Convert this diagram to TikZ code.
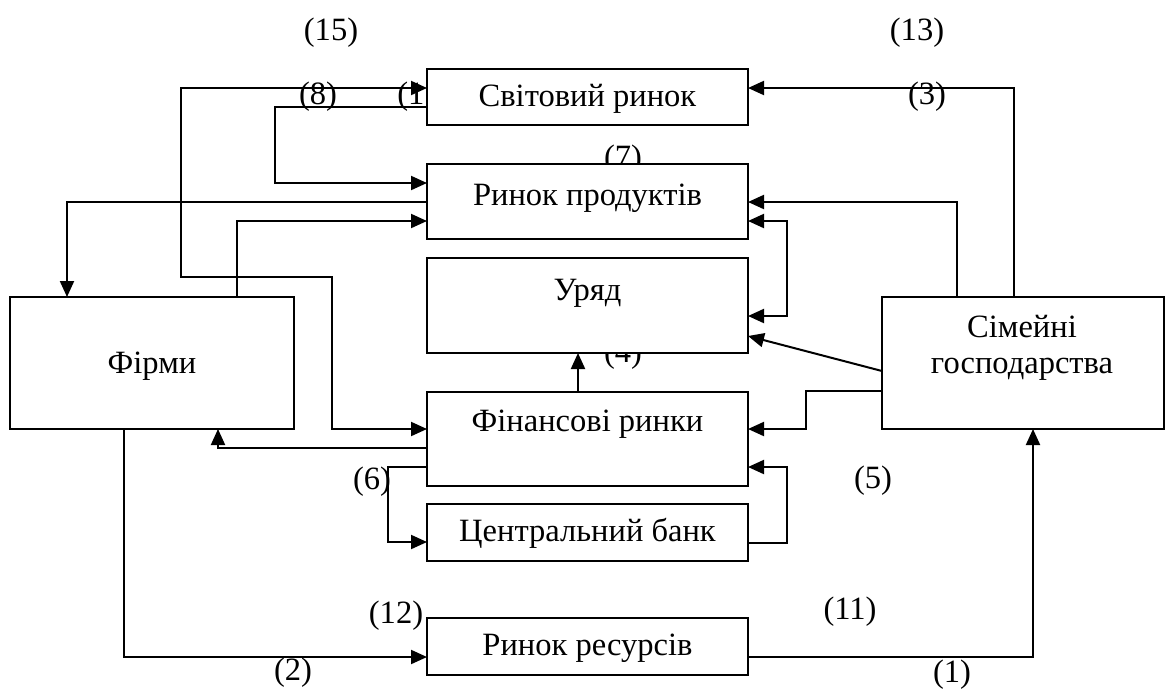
\documentclass[tikz,border=0pt]{standalone}
\usepackage{fontspec}
\setmainfont{Liberation Serif}
\usetikzlibrary{arrows.meta}

\begin{document}
\begin{tikzpicture}[x=0.75pt,y=-0.75pt,
  font=\fontsize{24.4pt}{29pt}\selectfont,
  block/.style={draw=black, line width=1.3pt, fill=white, rectangle,
    inner sep=0pt, outer sep=0pt},
  txt/.style={inner sep=0pt, anchor=base},
  flow/.style={line width=1.5pt, -{Triangle[length=12pt,width=10.5pt]}},
  both/.style={line width=1.5pt, {Triangle[length=12pt,width=10.5pt]}-{Triangle[length=12pt,width=10.5pt]}},
  link/.style={line width=1.5pt}]

\fill[white] (0,0) rectangle (1167,690);
\useasboundingbox (0,0) rectangle (1167,690);

% flow numbers (drawn first; boxes lie over some of them)
\node[txt] (n15) at (331,40) {(15)};
\node[txt] (n13) at (917,40) {(13)};
\node[txt] (n8)  at (318,104) {(8)};
\node[txt, anchor=base west] (n14) at (397,104) {(1};
\node[txt] (n3)  at (927,104) {(3)};
\node[txt] (n7)  at (623,167.5) {(7)};
\node[txt] (n4)  at (623,362) {(4)};
\node[txt] (n5)  at (873,488) {(5)};
\node[txt] (n6)  at (372,489) {(6)};
\node[txt] (n11) at (850,619) {(11)};
\node[txt] (n12) at (396,623) {(12)};
\node[txt] (n2)  at (293,680.5) {(2)};
\node[txt] (n1)  at (952,682) {(1)};

% boxes
\node[block, minimum width=240.75pt, minimum height=42pt]    (world) at (587.5,97)    {};
\node[block, minimum width=240.75pt, minimum height=56.25pt] (prod)  at (587.5,201.5) {};
\node[block, minimum width=240.75pt, minimum height=71.25pt] (gov)   at (587.5,305.5) {};
\node[block, minimum width=240.75pt, minimum height=70.5pt]  (fin)   at (587.5,439)   {};
\node[block, minimum width=240.75pt, minimum height=42.75pt] (cb)    at (587.5,532.5) {};
\node[block, minimum width=240.75pt, minimum height=42.75pt] (res)   at (587.5,646.5) {};
\node[block, minimum width=213pt,    minimum height=99pt]    (firms) at (152,363)     {};
\node[block, minimum width=211.5pt,  minimum height=99pt]    (hh)    at (1023,363)    {};

% box captions
\node[txt] (tworld) at (587.5,106) {Світовий ринок};
\node[txt] (tprod)  at (587.5,205) {Ринок продуктів};
\node[txt] (tgov)   at (587.5,300) {Уряд};
\node[txt] (tfin)   at (587.5,431) {Фінансові ринки};
\node[txt] (tcb)    at (587.5,541) {Центральний банк};
\node[txt] (tres)   at (587.5,655) {Ринок ресурсів};
\node[txt] (tfirms) at (152,373)   {Фірми};
\node[txt] (thh1)   at (1022,337)  {Сімейні};
\node[txt] (thh2)   at (1022,373)  {господарства};

% bend points of the flows
\coordinate (k2)  at (124,657);
\coordinate (k1)  at (1033,657);
\coordinate (k3)  at (1014,88);
\coordinate (k13) at (957,202);
\coordinate (kp1) at (787,221);
\coordinate (kp2) at (787,316);
\coordinate (kd1) at (0,371);
\coordinate (kd2) at (0,336);
\coordinate (kh1) at (806,391);
\coordinate (kh2) at (806,429);
\coordinate (kc1) at (787,543);
\coordinate (kc2) at (787,467);
\coordinate (kl1) at (388,467);
\coordinate (kl2) at (388,542);
\coordinate (kf1) at (218,448);
\coordinate (kg)  at (578,0);
\coordinate (ka1) at (237,221);
\coordinate (kb1) at (67,202);
\coordinate (kw1) at (181,88);
\coordinate (kw2) at (181,277);
\coordinate (kw3) at (332,277);
\coordinate (kw4) at (332,429);
\coordinate (kv1) at (275,107);
\coordinate (kv2) at (275,183);

% flows
\draw[flow] (firms.south -| k2) |- (res.west |- k2);
\draw[flow] (res.east |- k1) -| (hh.south -| k1);
\draw[flow] (hh.north -| k3) |- (world.east |- k3);
\draw[flow] (hh.north -| k13) |- (prod.east |- k13);
\draw[both] (prod.east |- kp1) -- (kp1) -- (kp2) -- (gov.east |- kp2);
\draw[flow] (hh.west |- kd1) -- (gov.east |- kd2);
\draw[flow] (hh.west |- kh1) -- (kh1) -- (kh2) -- (fin.east |- kh2);
\draw[flow] (cb.east |- kc1) -- (kc1) -- (kc2) -- (fin.east |- kc2);
\draw[flow] (fin.west |- kl1) -- (kl1) -- (kl2) -- (cb.west |- kl2);
\draw[flow] (fin.west |- kf1) -- (kf1) -- (firms.south -| kf1);
\draw[flow] (fin.north -| kg) -- (gov.south -| kg);
\draw[flow] (firms.north -| ka1) -- (ka1) -- (prod.west |- ka1);
\draw[flow] (prod.west |- kb1) -- (kb1) -- (firms.north -| kb1);
\draw[both] (world.west |- kw1) -- (kw1) -- (kw2) -- (kw3) -- (kw4) -- (fin.west |- kw4);
\draw[flow] (world.west |- kv1) -- (kv1) -- (kv2) -- (prod.west |- kv2);
\end{tikzpicture}
\end{document}
